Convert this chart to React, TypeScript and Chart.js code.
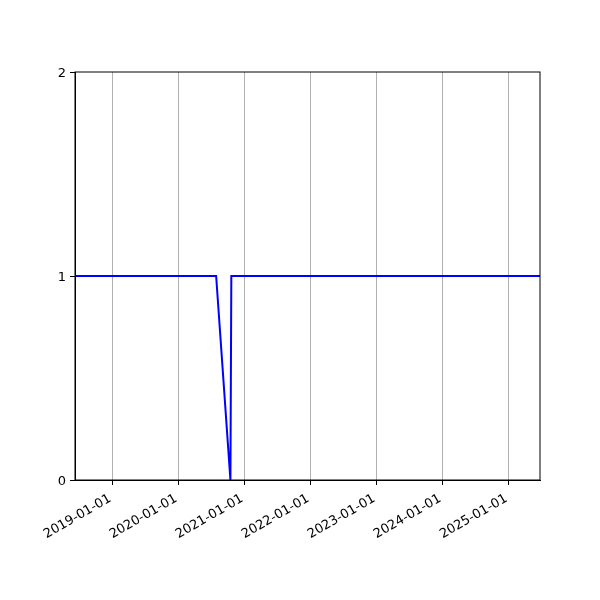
import { useEffect, useRef } from 'react';
import { Chart, registerables } from 'chart.js';

Chart.register(...registerables);

const dates = ['2018-06-09', '2020-07-29', '2020-10-16', '2020-10-21', '2025-06-25'];
const values = [1, 1, 0, 1, 1];
const tickYears = [2019, 2020, 2021, 2022, 2023, 2024, 2025];
const yTicks = [0, 1, 2];

const toMs = (d: string) => Date.parse(d + 'T00:00:00Z');
const pad2 = (n: number) => (n < 10 ? '0' + n : '' + n);
const fmt = (ms: number) => {
  const d = new Date(ms);
  return d.getUTCFullYear() + '-' + pad2(d.getUTCMonth() + 1) + '-' + pad2(d.getUTCDate());
};

const frame = {
  id: 'frame',
  afterDraw(chart: any) {
    const { ctx, chartArea } = chart;
    ctx.save();
    ctx.strokeStyle = '#000';
    ctx.lineWidth = 1;
    ctx.strokeRect(chartArea.left, chartArea.top, chartArea.right - chartArea.left, chartArea.bottom - chartArea.top);
    ctx.restore();
  }
};

export default function App() {
  const canvasRef = useRef<HTMLCanvasElement>(null);

  useEffect(() => {
    document.body.style.margin = '0';
    if (!canvasRef.current) return;
    const font = { family: 'DejaVu Sans', size: 13 };

    const chart = new Chart(canvasRef.current, {
      type: 'line',
      data: {
        datasets: [
          {
            data: dates.map((d, i) => ({ x: toMs(d), y: values[i] })),
            borderColor: '#0000ff',
            borderWidth: 2,
            pointRadius: 0,
            tension: 0,
            fill: false
          }
        ]
      },
      options: {
        animation: false,
        responsive: false,
        layout: { padding: { top: 72, right: 60, left: 0, bottom: 0 } },
        plugins: { legend: { display: false }, tooltip: { enabled: false } },
        scales: {
          x: {
            type: 'linear',
            min: toMs(dates[0]),
            max: toMs(dates[dates.length - 1]),
            afterBuildTicks: (scale: any) => {
              scale.ticks = tickYears.map((y) => ({ value: Date.UTC(y, 0, 1) }));
            },
            afterFit: (scale: any) => {
              scale.height = 120;
            },
            ticks: {
              autoSkip: false,
              maxRotation: 30,
              minRotation: 30,
              padding: 6,
              labelOffset: -2,
              color: '#000',
              font,
              callback: (v: any) => fmt(Number(v))
            },
            grid: {
              color: '#b0b0b0',
              lineWidth: 1,
              tickColor: '#000',
              tickLength: 5
            },
            border: { color: '#000', width: 1 }
          },
          y: {
            type: 'linear',
            min: 0,
            max: 2,
            afterBuildTicks: (scale: any) => {
              scale.ticks = yTicks.map((v) => ({ value: v }));
            },
            afterFit: (scale: any) => {
              scale.width = 75;
            },
            ticks: {
              padding: 4,
              labelOffset: 1.5,
              color: '#000',
              font,
              callback: (v: any) => String(v)
            },
            grid: {
              drawOnChartArea: false,
              tickColor: '#000',
              tickLength: 5
            },
            border: { color: '#000', width: 1 }
          }
        }
      },
      plugins: [frame]
    });

    return () => chart.destroy();
  }, []);

  return (
    <div style={{ width: 600, height: 600, background: '#fff' }}>
      <canvas ref={canvasRef} width={600} height={600} style={{ width: 600, height: 600 }} />
    </div>
  );
}
